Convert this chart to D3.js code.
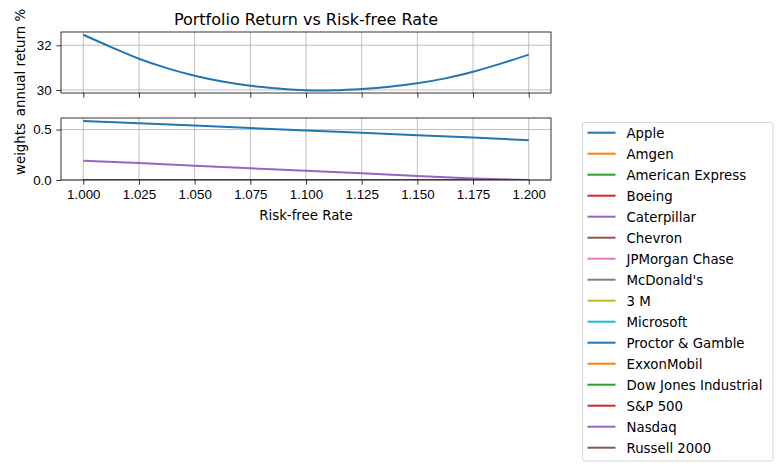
<!DOCTYPE html>
<html>
<head>
<meta charset="utf-8">
<script src="https://cdn.jsdelivr.net/npm/d3@7"></script>
<style>
    body { margin: 0; background: #fff; }
    svg { display: block; font-family: 'DejaVu Sans', sans-serif; }
    .tick-label { font-size: 13.33px; fill: #000; }
</style>
</head>
<body>
<svg id="chart" width="783" height="471"></svg>
<script>
// Risk-free rates used for the return curve.
const rateReturn = [1.0, 1.0125, 1.025, 1.0375, 1.05, 1.0625, 1.075, 1.0875, 1.1,
    1.1125, 1.125, 1.1375, 1.15, 1.1625, 1.175, 1.1875, 1.2];
// Annual portfolio return in %.
const annualReturn = [32.47, 31.92, 31.40, 30.98, 30.64, 30.38, 30.19, 30.07, 29.99,
    29.99, 30.05, 30.15, 30.30, 30.52, 30.82, 31.18, 31.58];

// Risk-free rates used for the weights.
const rateWeights = [1.0, 1.025, 1.05, 1.075, 1.1, 1.125, 1.15, 1.175, 1.2];
const wApple = [0.585, 0.562, 0.539, 0.515, 0.49, 0.467, 0.444, 0.421, 0.394];
const wCaterpillar = [0.19, 0.168, 0.142, 0.116, 0.092, 0.066, 0.040, 0.016, 0.0];
const wZero = [0, 0, 0, 0, 0, 0, 0, 0, 0];

const assets = ['Apple', 'Amgen', 'American Express', 'Boeing', 'Caterpillar', 'Chevron',
    'JPMorgan Chase', "McDonald's", '3 M', 'Microsoft', 'Proctor & Gamble', 'ExxonMobil',
    'Dow Jones Industrial', 'S&P 500', 'Nasdaq', 'Russell 2000'];
const assetWeights = [wApple, wZero, wZero, wZero, wCaterpillar, wZero, wZero, wZero,
    wZero, wZero, wZero, wZero, wZero, wZero, wZero, wZero];

const xTicks = [1.0, 1.025, 1.05, 1.075, 1.1, 1.125, 1.15, 1.175, 1.2];
const topTicks = [30, 32];
const bottomTicks = [0.0, 0.5];

const tab10 = ['#1f77b4', '#ff7f0e', '#2ca02c', '#d62728', '#9467bd',
    '#8c564b', '#e377c2', '#7f7f7f', '#bcbd22', '#17becf'];

const svg = d3.select('#chart');
const left = 61, right = 551;
const topBox = { y0: 32, y1: 93 };
const botBox = { y0: 118, y1: 180 };

// Shared x scale with matplotlib-style 5% margin.
const x = d3.scaleLinear().domain([0.99, 1.21]).range([left, right]);

const retExt = d3.extent(annualReturn);
const retPad = (retExt[1] - retExt[0]) * 0.05;
const yTop = d3.scaleLinear().domain([retExt[0] - retPad, retExt[1] + retPad]).range([topBox.y1, topBox.y0]);

const wMax = d3.max(assetWeights, w => d3.max(w));
const yBot = d3.scaleLinear().domain([0, wMax * 1.05]).range([botBox.y1, botBox.y0]);

function drawAxes(box, y, yTicks, yFmt, showXLabels, clipId) {
    const g = svg.append('g');

    // Grid.
    g.selectAll('.gx').data(xTicks).enter().append('line')
        .attr('x1', d => x(d)).attr('x2', d => x(d))
        .attr('y1', box.y0).attr('y2', box.y1)
        .attr('stroke', '#b0b0b0').attr('stroke-width', 0.8);
    g.selectAll('.gy').data(yTicks).enter().append('line')
        .attr('x1', left).attr('x2', right)
        .attr('y1', d => y(d)).attr('y2', d => y(d))
        .attr('stroke', '#b0b0b0').attr('stroke-width', 0.8);

    svg.append('clipPath').attr('id', clipId).append('rect')
        .attr('x', left).attr('y', box.y0).attr('width', right - left).attr('height', box.y1 - box.y0);

    // Bottom axis.
    const xAxis = d3.axisBottom(x).tickValues(xTicks).tickSize(4.67).tickPadding(4.67)
        .tickFormat(showXLabels ? d3.format('.3f') : '');
    const ax = svg.append('g').attr('transform', `translate(0, ${box.y1})`).call(xAxis);

    // Left axis.
    const yAxis = d3.axisLeft(y).tickValues(yTicks).tickSize(4.67).tickPadding(4.67).tickFormat(yFmt);
    const ay = svg.append('g').attr('transform', `translate(${left}, 0)`).call(yAxis);

    [ax, ay].forEach(a => {
        a.select('.domain').remove();
        a.selectAll('.tick line').attr('stroke', '#000').attr('stroke-width', 0.8);
        a.selectAll('.tick text').attr('class', 'tick-label').attr('font-family', null).attr('font-size', null);
    });
    return g;
}

function drawSpines(box) {
    svg.append('rect')
        .attr('x', left).attr('y', box.y0)
        .attr('width', right - left).attr('height', box.y1 - box.y0)
        .attr('fill', 'none').attr('stroke', '#000').attr('stroke-width', 0.8);
}

// Top panel: annual return.
drawAxes(topBox, yTop, topTicks, d3.format('d'), false, 'clipTop');
svg.append('path')
    .datum(rateReturn.map((r, i) => [r, annualReturn[i]]))
    .attr('clip-path', 'url(#clipTop)')
    .attr('fill', 'none').attr('stroke', tab10[0]).attr('stroke-width', 2)
    .attr('d', d3.line().x(d => x(d[0])).y(d => yTop(d[1])).curve(d3.curveCatmullRom));
drawSpines(topBox);

// Bottom panel: weights.
drawAxes(botBox, yBot, bottomTicks, d3.format('.1f'), true, 'clipBot');
const weightLine = d3.line().x(d => x(d[0])).y(d => yBot(d[1]));
svg.append('g').attr('clip-path', 'url(#clipBot)')
    .selectAll('path').data(assets).enter().append('path')
    .attr('fill', 'none')
    .attr('stroke', (d, i) => tab10[i % 10]).attr('stroke-width', 2)
    .attr('d', (d, i) => weightLine(rateWeights.map((r, j) => [r, assetWeights[i][j]])));
drawSpines(botBox);

// Title and labels.
svg.append('text').attr('x', (left + right) / 2).attr('y', 24.5)
    .attr('text-anchor', 'middle').attr('font-size', 16).text('Portfolio Return vs Risk-free Rate');
svg.append('text').attr('x', (left + right) / 2).attr('y', 220)
    .attr('text-anchor', 'middle').attr('font-size', 13.33).text('Risk-free Rate');
svg.append('text').attr('transform', `translate(25, ${(topBox.y0 + topBox.y1) / 2}) rotate(-90)`)
    .attr('text-anchor', 'middle').attr('font-size', 13.33).text('annual return %');
svg.append('text').attr('transform', `translate(25, ${(botBox.y0 + botBox.y1) / 2}) rotate(-90)`)
    .attr('text-anchor', 'middle').attr('font-size', 13.33).text('weights');

// Legend.
const legend = svg.append('g');
legend.append('rect')
    .attr('x', 582.5).attr('y', 122.5).attr('width', 190.5).attr('height', 338.5)
    .attr('rx', 2.5).attr('fill', '#fff').attr('fill-opacity', 0.8)
    .attr('stroke', '#d6d6d6').attr('stroke-width', 1);
const items = legend.selectAll('.item').data(assets).enter().append('g')
    .attr('transform', (d, i) => `translate(0, ${132.7 + i * 21})`);
items.append('line').attr('x1', 587.5).attr('x2', 615.5)
    .attr('stroke', (d, i) => tab10[i % 10]).attr('stroke-width', 2);
items.append('text').attr('x', 626.5).attr('y', 4.8)
    .attr('font-size', 13.33).text(d => d);
</script>
</body>
</html>
